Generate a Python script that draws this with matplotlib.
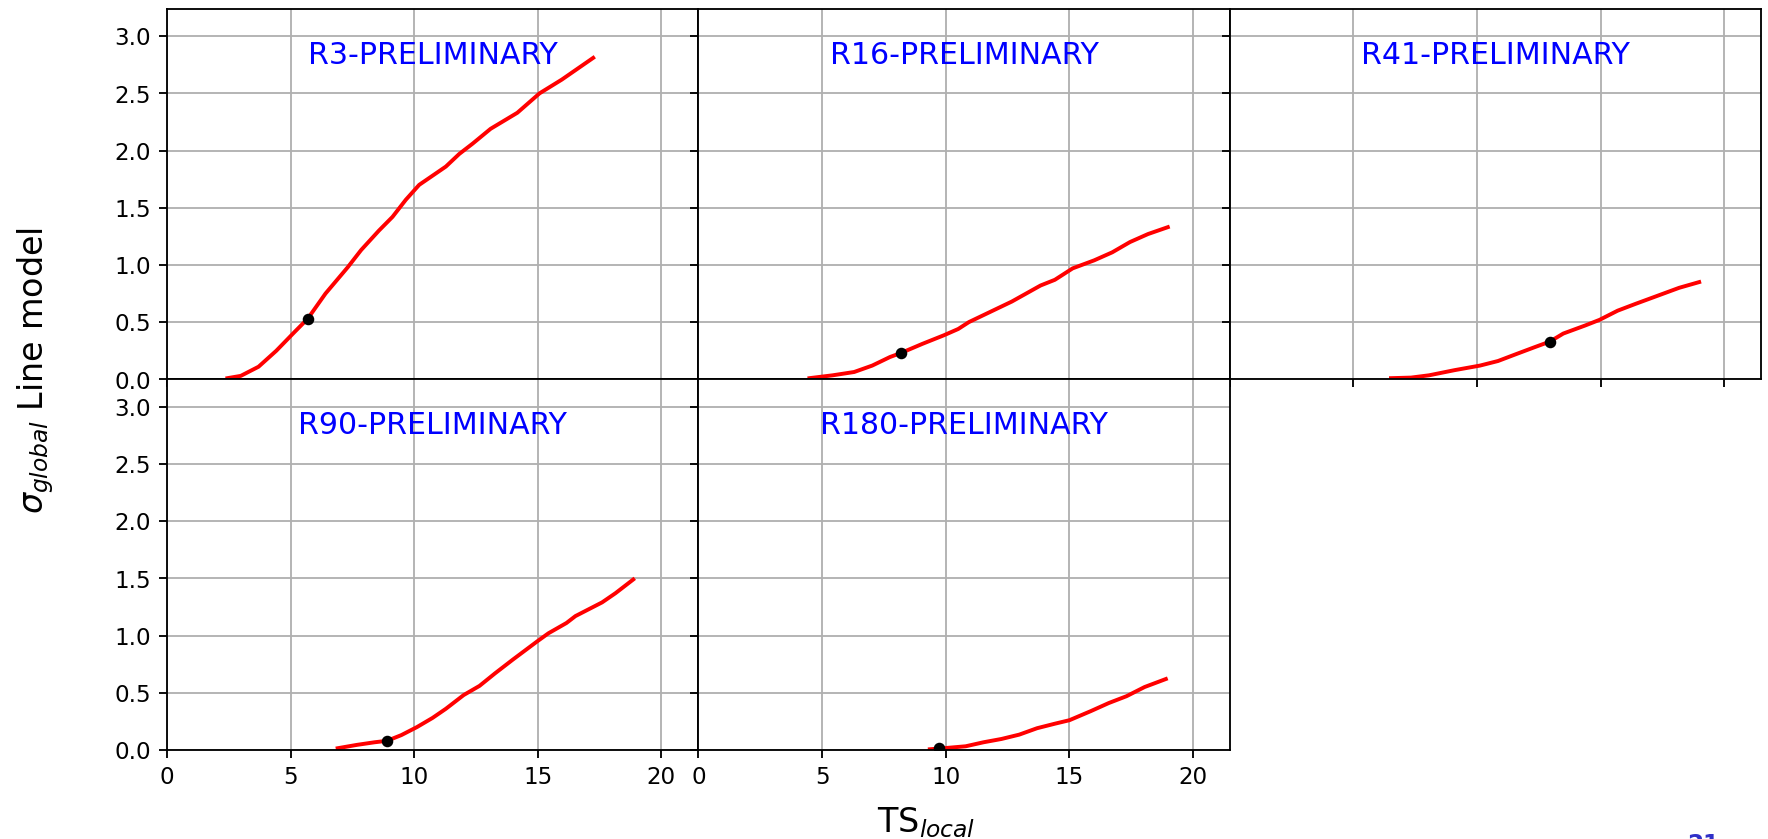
import matplotlib.pyplot as plt
import numpy as np

# curves (TS_local, sigma_global)
r3_x = [2.44, 2.98, 3.70, 4.42, 5.14, 5.69, 6.41, 7.31, 7.85, 8.57, 9.12, 9.66, 10.20,
        11.28, 11.82, 12.36, 13.09, 14.17, 15.07, 15.97, 17.24]
r3_y = [0.01, 0.03, 0.11, 0.25, 0.41, 0.53, 0.75, 0.98, 1.13, 1.30, 1.42, 1.57, 1.70,
        1.86, 1.97, 2.06, 2.19, 2.33, 2.50, 2.62, 2.81]

r16_x = [4.49, 5.43, 6.30, 7.03, 7.75, 8.19, 9.06, 9.93, 10.51, 10.94, 11.81, 12.68,
         13.84, 14.42, 15.14, 16.01, 16.74, 17.46, 18.19, 18.99]
r16_y = [0.01, 0.035, 0.064, 0.12, 0.195, 0.23, 0.31, 0.385, 0.44, 0.50, 0.59, 0.68,
         0.82, 0.87, 0.97, 1.04, 1.11, 1.20, 1.27, 1.33]

r41_x = [6.52, 7.33, 8.06, 9.09, 10.12, 10.85, 11.58, 12.32, 12.95, 13.49, 14.37,
         14.96, 15.69, 16.42, 17.30, 18.18, 18.99]
r41_y = [0.01, 0.015, 0.035, 0.08, 0.12, 0.16, 0.22, 0.28, 0.33, 0.40, 0.47,
         0.52, 0.60, 0.66, 0.73, 0.80, 0.85]

r90_x = [6.90, 7.67, 8.39, 8.90, 9.48, 10.11, 10.74, 11.28, 12.00, 12.64, 13.27,
         13.99, 14.98, 15.43, 16.16, 16.52, 17.60, 18.14, 18.86]
r90_y = [0.015, 0.044, 0.067, 0.08, 0.13, 0.20, 0.28, 0.36, 0.48, 0.56, 0.67,
         0.79, 0.95, 1.02, 1.11, 1.17, 1.29, 1.37, 1.49]

r180_x = [9.36, 10.01, 10.81, 11.53, 12.26, 12.98, 13.70, 14.43, 15.01, 15.88,
          16.60, 17.32, 18.05, 18.91]
r180_y = [0.006, 0.017, 0.032, 0.067, 0.096, 0.134, 0.19, 0.23, 0.26, 0.34,
          0.41, 0.47, 0.55, 0.62]

# observed point on each curve
obs_x = [5.69, 8.19, 12.95, 8.90, 9.75]
obs_y = [0.53, 0.23, 0.33, 0.08, 0.02]

names = ['R3', 'R16', 'R41', 'R90', 'R180']
curves = [(r3_x, r3_y), (r16_x, r16_y), (r41_x, r41_y), (r90_x, r90_y), (r180_x, r180_y)]

dpi = 166
fig, axes = plt.subplots(2, 3, sharex=True, sharey=True,
                         figsize=(1768.3 / dpi, 839.3 / dpi), dpi=dpi)
fig.subplots_adjust(left=0.0945, right=0.996, top=0.9893, bottom=0.1061,
                    wspace=0, hspace=0)
axes[1, 2].remove()

for i, ax in enumerate([axes[0, 0], axes[0, 1], axes[0, 2], axes[1, 0], axes[1, 1]]):
    cx, cy = curves[i]
    ax.plot(cx, cy, color='red', lw=1.7)
    ax.plot(obs_x[i], obs_y[i], 'ko', ms=4)
    ax.text(0.5, 0.875, names[i] + '-PRELIMINARY', color='blue', fontsize=13,
            ha='center', va='center', transform=ax.transAxes)
    ax.grid(True)

axes[0, 0].set_xlim(0, 21.5)
axes[0, 0].set_ylim(0, 3.24)

fig.text(0.020, 0.559, r'$\sigma_{global}$ Line model', rotation=90,
         fontsize=14.5, ha='center', va='center')
fig.text(0.524, 0.0083, r'TS$_{local}$', fontsize=14.5, ha='center', va='baseline')
fig.text(0.963, 0.008, '21', color='#3030c8', fontsize=10, fontweight='bold',
         ha='center', va='top')

fig.savefig('out.png', dpi=dpi)
